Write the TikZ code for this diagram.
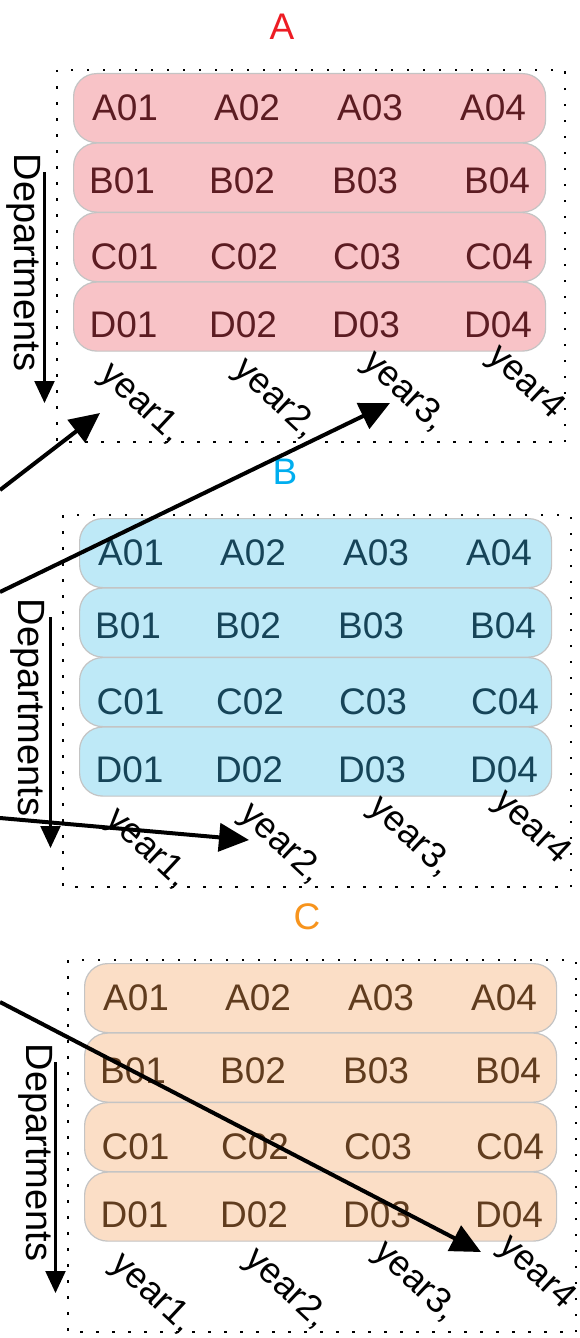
\documentclass[tikz,border=0pt]{standalone}
\usepackage{fontspec}
\setmainfont{Liberation Sans}
\usetikzlibrary{arrows.meta}
\definecolor{ttlA}{RGB}{237,28,36}
\definecolor{ttlB}{RGB}{0,174,239}
\definecolor{ttlC}{RGB}{247,148,29}
\definecolor{fillA}{RGB}{248,195,199}
\definecolor{fillB}{RGB}{190,233,247}
\definecolor{fillC}{RGB}{251,222,198}
\definecolor{txtA}{RGB}{92,28,34}
\definecolor{txtB}{RGB}{22,68,88}
\definecolor{txtC}{RGB}{96,60,30}
\definecolor{pillline}{RGB}{196,196,196}
\tikzset{
  pill/.style={draw=pillline, line width=1.2pt, rounded corners=23pt, minimum width=472pt, minimum height=69pt, anchor=north west, inner sep=0pt},
  cell/.style={font=\fontsize{37}{40}\selectfont, anchor=base, inner sep=0pt},
  yearlbl/.style={font=\fontsize{36}{40}\selectfont, rotate=-43, inner sep=0pt},
  dept/.style={font=\fontsize{38}{40}\selectfont, rotate=-90, anchor=base, inner sep=0pt},
  ttl/.style={font=\fontsize{37}{40}\selectfont, inner sep=0pt},
  frame/.style={line width=2.5pt, dash pattern=on 2.5pt off 13.5pt},
  deptarrow/.style={line width=2.2pt, -{Triangle[length=22pt,width=20pt]}},
  link/.style={line width=4pt, -{Triangle[length=30pt,width=28pt]}},
}
% #1 name, #2 left, #3 top, #4 title x (rel), #5 colour key, #6 dept baseline x (rel)
\newcommand\drawpanel[6]{%
  \begin{scope}[shift={(#2,#3)}]
    \node[ttl, text=ttl#5] (#1-title) at (#4,-43) {#1};
    \draw[frame] (0,0) rectangle (508,372);
    \foreach \r/\bl/\xa/\xb/\xc/\xd [count=\i] in
      {A/50/52/174/297/420, B/123/49/169/292/424, C/199/51.5/171/294/426, D/267/50.5/170/293/425}
    {
      \node[pill, fill=fill#5] (#1-row\i) at (16,{3+(\i-1)*69.5}) {};
      \node[cell, text=txt#5] (#1-\r1) at ({16+\xa},\bl) {\r01};
      \node[cell, text=txt#5] (#1-\r2) at ({16+\xb},\bl) {\r02};
      \node[cell, text=txt#5] (#1-\r3) at ({16+\xc},\bl) {\r03};
      \node[cell, text=txt#5] (#1-\r4) at ({16+\xd},\bl) {\r04};
    }
    \node[dept] (#1-dept) at (#6,192.5) {Departments};
    \coordinate (#1-dtop) at (-12.5,102);
    \coordinate (#1-dtip) at (-12.5,333);
    \draw[deptarrow] (#1-dtop) -- (#1-dtip);
    \node[yearlbl] (#1-y1) at (84,334) {year1,};
    \node[yearlbl] (#1-y2) at (218,329) {year2,};
    \node[yearlbl] (#1-y3) at (347,322) {year3,};
    \node[yearlbl] (#1-y4) at (468,313) {year4};
  \end{scope}%
}
\begin{document}
\begin{tikzpicture}[x=1pt,y=-1pt]
  \path[use as bounding box, clip] (0,0) rectangle (580,1338);
  \fill[white] (0,0) rectangle (580,1338);
  \drawpanel{A}{57}{70}{225}{A}{-43}
  \drawpanel{B}{63}{515}{222}{B}{-45}
  \drawpanel{C}{68}{960}{239}{C}{-41}
  \coordinate (s1) at (0,490);
  \coordinate (t1) at (100,413);
  \coordinate (s2) at (0,592);
  \coordinate (t2) at (390,403);
  \coordinate (s3) at (0,818);
  \coordinate (t3) at (249,840);
  \coordinate (s4) at (0,1002);
  \coordinate (t4) at (481,1252);
  \draw[link] (s1) -- (t1);
  \draw[link] (s2) -- (t2);
  \draw[link] (s3) -- (t3);
  \draw[link] (s4) -- (t4);
\end{tikzpicture}
\end{document}
